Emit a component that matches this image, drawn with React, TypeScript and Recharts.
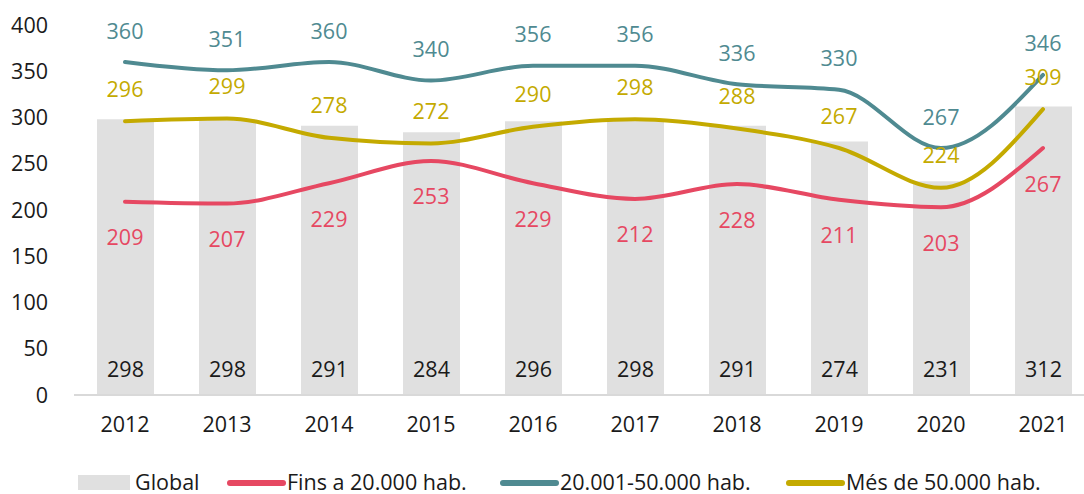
import { ComposedChart, Bar, Line, XAxis, YAxis, LabelList } from 'recharts';

const years = ['2012', '2013', '2014', '2015', '2016', '2017', '2018', '2019', '2020', '2021'];
const global = [298, 298, 291, 284, 296, 298, 291, 274, 231, 312];
const fins20k = [209, 207, 229, 253, 229, 212, 228, 211, 203, 267];
const from20kTo50k = [360, 351, 360, 340, 356, 356, 336, 330, 267, 346];
const over50k = [296, 299, 278, 272, 290, 298, 288, 267, 224, 309];
const yTicks = [0, 50, 100, 150, 200, 250, 300, 350, 400];

const data = years.map((year, i) => ({
  year,
  global: global[i],
  fins20k: fins20k[i],
  mid: from20kTo50k[i],
  over50k: over50k[i],
}));

const FONT = '"Open Sans", "Noto Sans", sans-serif';
const FS = 21.5;
const GRAY = '#e0e0e0';
const RED = '#e64862';
const TEAL = '#4f8a91';
const GOLD = '#c4aa00';

const pointLabel = (color: string, dy: number) => (props: any) => {
  const { x, y, value } = props;
  return (
    <text
      x={x}
      y={y + dy}
      fill={color}
      fontSize={FS}
      fontFamily={FONT}
      textAnchor="middle"
      dominantBaseline="central"
    >
      {value}
    </text>
  );
};

const barLabel = (props: any) => {
  const { x, width, value } = props;
  return (
    <text
      x={x + width / 2}
      y={368}
      fill="#1a1a1a"
      fontSize={FS}
      fontFamily={FONT}
      textAnchor="middle"
      dominantBaseline="central"
    >
      {value}
    </text>
  );
};

const legendItems = [
  { name: 'Global', color: GRAY, kind: 'rect', x: 78 },
  { name: 'Fins a 20.000 hab.', color: RED, kind: 'line', x: 228 },
  { name: '20.001-50.000 hab.', color: TEAL, kind: 'line', x: 501 },
  { name: 'Més de 50.000 hab.', color: GOLD, kind: 'line', x: 787 },
];

export default function App() {
  return (
    <div style={{ position: 'absolute', left: 0, top: 0, width: 1084, height: 494, overflow: 'hidden', background: '#fff' }}>
      <ComposedChart
        width={1100}
        height={450}
        data={data}
        margin={{ top: 25, right: 6, bottom: 0, left: 0 }}
        barSize={57}
      >
        <XAxis
          dataKey="year"
          axisLine={{ stroke: '#d9d9d9', strokeWidth: 2 }}
          tickLine={false}
          height={55}
          tick={{ fontSize: FS, fill: '#1a1a1a', fontFamily: FONT }}
          dy={14}
        />
        <YAxis
          domain={[0, 400]}
          ticks={yTicks}
          width={74}
          axisLine={false}
          tickLine={false}
          tick={{ fontSize: FS, fill: '#1a1a1a', fontFamily: FONT }}
          dx={-18}
        />
        <Bar dataKey="global" fill={GRAY} isAnimationActive={false}>
          <LabelList dataKey="global" content={barLabel} />
        </Bar>
        <Line type="monotone" dataKey="fins20k" stroke={RED} strokeWidth={4} dot={false} strokeLinecap="round" isAnimationActive={false}>
          <LabelList dataKey="fins20k" content={pointLabel(RED, 35)} />
        </Line>
        <Line type="monotone" dataKey="mid" stroke={TEAL} strokeWidth={4} dot={false} strokeLinecap="round" isAnimationActive={false}>
          <LabelList dataKey="mid" content={pointLabel(TEAL, -32)} />
        </Line>
        <Line type="monotone" dataKey="over50k" stroke={GOLD} strokeWidth={4} dot={false} strokeLinecap="round" isAnimationActive={false}>
          <LabelList dataKey="over50k" content={pointLabel(GOLD, -33)} />
        </Line>
      </ComposedChart>
      <svg width={1084} height={54} style={{ position: 'absolute', left: 0, top: 440 }}>
        {legendItems.map((item) =>
          item.kind === 'rect' ? (
            <g key={item.name}>
              <rect x={item.x} y={35} width={52} height={15} fill={item.color} />
              <text x={item.x + 57} y={41} fontSize={FS} fontFamily={FONT} fill="#1a1a1a" dominantBaseline="central">
                {item.name}
              </text>
            </g>
          ) : (
            <g key={item.name}>
              <line x1={item.x + 2} x2={item.x + 55} y1={43} y2={43} stroke={item.color} strokeWidth={6} strokeLinecap="round" />
              <text x={item.x + 59} y={41} fontSize={FS} fontFamily={FONT} fill="#1a1a1a" dominantBaseline="central">
                {item.name}
              </text>
            </g>
          )
        )}
      </svg>
    </div>
  );
}
